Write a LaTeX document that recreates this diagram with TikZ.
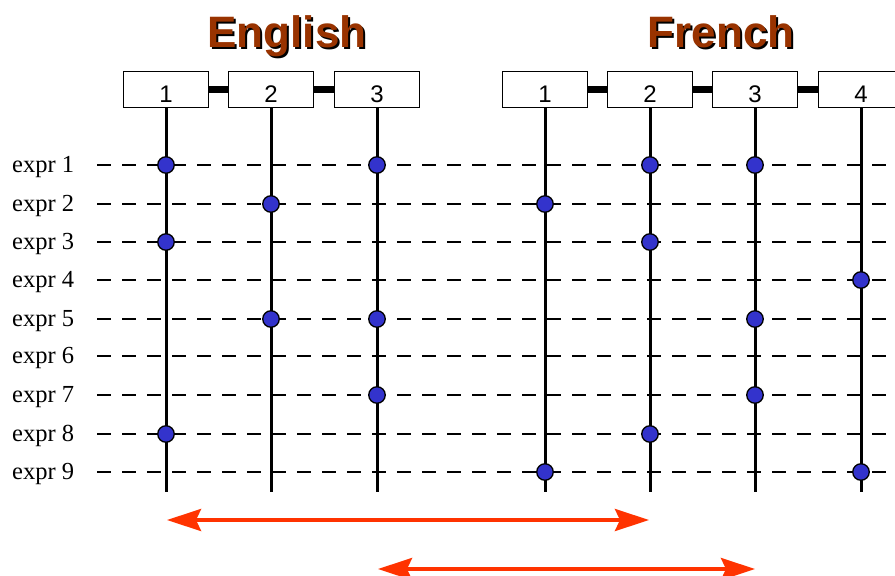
\documentclass[tikz,border=0pt]{standalone}
\usepackage{fontspec}
\setmainfont{Liberation Serif}
\newfontfamily\headfont{Liberation Sans}
\usetikzlibrary{arrows.meta}

\definecolor{titlebrown}{HTML}{993300}
\definecolor{dotblue}{HTML}{3333CC}
\definecolor{spanred}{HTML}{FF3300}

% heading text with a black drop shadow behind it
\newcommand{\shadowed}[1]{\rlap{\kern2pt\raisebox{-2pt}{\color{black}#1}}\color{titlebrown}#1}

\tikzset{
  wordbox/.style={draw, line width=1pt, fill=white, minimum width=85pt, minimum height=36pt,
                  inner sep=0pt, font=\headfont\fontsize{22}{22}\selectfont},
  boxnum/.style={anchor=base, inner sep=0pt, font=\headfont\fontsize{24}{24}\selectfont},
  linkbar/.style={line width=7pt},
  column/.style={line width=3pt},
  rowline/.style={line width=2pt, dash pattern=on 14pt off 11pt},
  rowlabel/.style={anchor=base west, inner sep=0pt, font=\fontsize{24.5}{24.5}\selectfont},
  hit/.style={circle, draw, line width=1.3pt, fill=dotblue, minimum size=16.5pt, inner sep=0pt},
  heading/.style={anchor=base, inner sep=0pt, font=\headfont\bfseries\fontsize{44}{44}\selectfont},
  span/.style={spanred, line width=4pt, {Stealth[length=34pt, width=22pt, inset=5pt]}-{Stealth[length=34pt, width=22pt, inset=5pt]}}
}

\begin{document}
\begin{tikzpicture}[x=1pt, y=-1pt]
\useasboundingbox (0,0) rectangle (895,576);
\clip (0,0) rectangle (895,576);

% language headings
\node[heading] (entitle) at (287,47) {\shadowed{English}};
\node[heading] (frtitle) at (721,47) {\shadowed{French}};

% row labels and their dashed guide lines
\foreach \i/\y in {1/165, 2/204, 3/242, 4/280, 5/319, 6/356, 7/395, 8/434, 9/472} {
  \node[rowlabel] (lab\i) at (12,\y+7) {expr \i};
  \coordinate (rs\i) at (97,\y);
  \coordinate (re\i) at (900,\y);
  \draw[rowline] (rs\i) -- (re\i);
}

% column anchors: top (box centre) and bottom end
\foreach \n/\x in {1/166, 2/271, 3/377} {
  \coordinate (etop\n) at (\x,89);
  \coordinate (ebot\n) at (\x,492);
}
\foreach \n/\x in {1/545, 2/650, 3/755, 4/861} {
  \coordinate (ftop\n) at (\x,89);
  \coordinate (fbot\n) at (\x,492);
}

% connecting bars between neighbouring boxes
\draw[linkbar] (etop1) -- (etop3);
\draw[linkbar] (ftop1) -- (ftop4);

% vertical columns
\foreach \n in {1,2,3} { \draw[column] (etop\n) -- (ebot\n); }
\foreach \n in {1,2,3,4} { \draw[column] (ftop\n) -- (fbot\n); }

% boxes on top of bars
\foreach \n in {1,2,3} {
  \node[wordbox] (ebox\n) at (etop\n) {};
  \node[boxnum] at ([yshift=-13.5pt]ebox\n.center) {\n};
}
\foreach \n in {1,2,3,4} {
  \node[wordbox] (fbox\n) at (ftop\n) {};
  \node[boxnum] at ([yshift=-13.5pt]fbox\n.center) {\n};
}

% occurrences: language / column / row
\foreach \l/\k/\r in {e/1/1, e/3/1, f/2/1, f/3/1,
                      e/2/2, f/1/2,
                      e/1/3, f/2/3,
                      f/4/4,
                      e/2/5, e/3/5, f/3/5,
                      e/3/7, f/3/7,
                      e/1/8, f/2/8,
                      f/1/9, f/4/9} {
  \node[hit] (hit-\l\k-\r) at (\l top\k |- rs\r) {};
}

% alignment spans
\coordinate (s1a) at (167,520);
\coordinate (s1b) at (649,520);
\coordinate (s2a) at (378,569);
\coordinate (s2b) at (755,569);
\draw[span] (s1a) -- (s1b);
\draw[span] (s2a) -- (s2b);
\end{tikzpicture}
\end{document}
